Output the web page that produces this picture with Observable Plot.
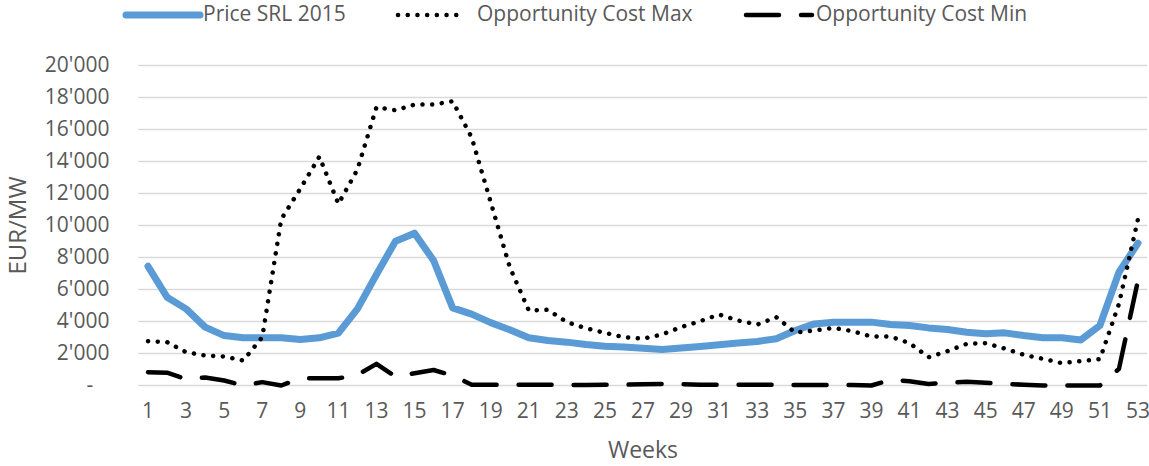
<!DOCTYPE html>
<html><head><meta charset="utf-8">
<script src="https://cdn.jsdelivr.net/npm/d3@7"></script>
<script src="https://cdn.jsdelivr.net/npm/@observablehq/plot@0.6"></script>
<style>
body{margin:0;background:#fff;font-family:"Open Sans",sans-serif;color:#595959;}
#legend{display:block;}
#chart svg{display:block;}
</style></head><body>
<svg id="legend" width="1149" height="30"></svg>
<div id="chart"></div>
<script>
const weeks = [1,2,3,4,5,6,7,8,9,10,11,12,13,14,15,16,17,18,19,20,21,22,23,24,25,26,27,28,29,30,31,32,33,34,35,36,37,38,39,40,41,42,43,44,45,46,47,48,49,50,51,52,53];
const priceSRL = [7450,5520,4790,3650,3120,2980,2980,2980,2880,2980,
  3270,4790,6940,9020,9520,7810,4850,4460,3930,3480,
  2980,2810,2710,2560,2460,2400,2330,2250,2350,2440,
  2540,2650,2750,2920,3440,3850,3960,3960,3960,3810,
  3750,3600,3500,3330,3230,3290,3120,2980,2980,2850,
  3750,7080,8900];
const oppCostMax = [2770,2710,2080,1875,1810,1560,3020,10400,12300,14300,
  11350,13500,17400,17200,17560,17560,17770,15500,11460,7400,
  4690,4730,3960,3580,3290,3020,2920,3190,3650,4020,
  4440,4060,3810,4270,3310,3440,3600,3400,3060,3060,
  2650,1770,2150,2600,2650,2310,1920,1670,1400,1520,
  1650,5100,10400];
const oppCostMin = [830,800,400,500,310,0,210,0,450,450,
  450,660,1350,560,770,970,620,50,50,50,
  50,50,30,30,50,50,80,100,80,50,
  50,50,50,50,30,30,30,30,0,350,
  270,100,170,230,170,100,50,0,0,0,
  0,1040,6560];
const seriesNames = ["Price SRL 2015", "Opportunity Cost Max", "Opportunity Cost Min"];
const xTicks = [1,3,5,7,9,11,13,15,17,19,21,23,25,27,29,31,33,35,37,39,41,43,45,47,49,51,53];
const yTicks = [0,2000,4000,6000,8000,10000,12000,14000,16000,18000,20000];

const styles = [
  {stroke: "#5B9BD5", strokeWidth: 7, dash: null},
  {stroke: "#000000", strokeWidth: 4.5, dash: "0.1 9.6"},
  {stroke: "#000000", strokeWidth: 4.5, dash: "33 22"}
];
const seriesValues = [priceSRL, oppCostMax, oppCostMin];
const tables = seriesValues.map((vals, i) => weeks.map((w, j) => ({week: w, value: vals[j], series: seriesNames[i]})));

const fmtY = d => d === 0 ? "-\u00A0\u00A0\u00A0" : d3.format(",")(d).replace(/,/g, "'");

const lineMarks = tables.map((t, i) => Plot.line(t, {
  x: "week", y: "value", stroke: styles[i].stroke, strokeWidth: styles[i].strokeWidth,
  strokeDasharray: styles[i].dash || undefined, strokeLinecap: "round", strokeLinejoin: "round"
}));

const chart = Plot.plot({
  width: 1149, height: 436,
  marginLeft: 138, marginRight: 2, marginTop: 35, marginBottom: 81,
  style: {fontFamily: '"Open Sans", sans-serif', fontSize: "21px", color: "#595959", background: "#fff", overflow: "visible"},
  x: {type: "linear", domain: [0.5, 53.5]},
  y: {type: "linear", domain: [0, 20000]},
  marks: [
    Plot.gridY(yTicks, {stroke: "#d9d9d9", strokeOpacity: 1, strokeWidth: 1.3}),
    Plot.axisX(xTicks, {tickSize: 0, tickPadding: 18, tickFormat: d => String(d), label: null, fontSize: 21}),
    Plot.axisX({tickSize: 0, ticks: [], label: "Weeks", labelAnchor: "center", labelOffset: 72, labelArrow: "none", fontSize: 23}),
    Plot.axisY(yTicks, {tickSize: 0, tickPadding: 29, tickFormat: fmtY, label: null, fontSize: 21}),
    Plot.axisY({tickSize: 0, ticks: [], label: "EUR/MW", labelAnchor: "center", labelOffset: 130, labelArrow: "none", fontSize: 24}),
    ...lineMarks
  ]
});
document.getElementById("chart").appendChild(chart);

// legend
const leg = d3.select("#legend");
const legItems = [
  {x0: 126, x1: 200, tx: 203},
  {x0: 398, x1: 465, tx: 477},
  {x0: 746, x1: 812, tx: 816}
];
legItems.forEach((it, i) => {
  const s = styles[i];
  leg.append("line").attr("x1", it.x0).attr("x2", it.x1).attr("y1", 15).attr("y2", 15)
    .attr("stroke", s.stroke).attr("stroke-width", s.strokeWidth)
    .attr("stroke-linecap", "round").attr("stroke-dasharray", s.dash);
  leg.append("text").attr("x", it.tx).attr("y", 14).attr("dy", "0.35em")
    .attr("fill", "#595959").attr("font-size", 21).attr("font-family", '"Open Sans", sans-serif')
    .text(seriesNames[i]);
});
</script></body></html>
